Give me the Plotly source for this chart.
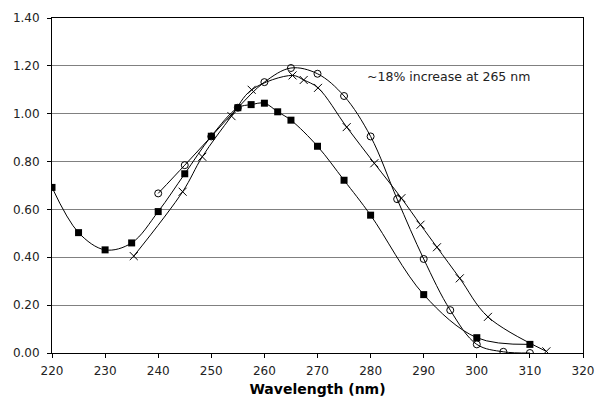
import plotly.graph_objects as go

# Series A (filled squares)
sq_x = [220, 225, 230, 235, 240, 245, 250, 255, 257.5, 260, 262.5, 265, 270, 275, 280, 290, 300, 310]
sq_y = [0.692, 0.503, 0.431, 0.460, 0.591, 0.749, 0.906, 1.025, 1.038, 1.044, 1.008, 0.973, 0.864, 0.722, 0.576, 0.244, 0.064, 0.036]

# Series B (open circles)
ci_x = [240, 245, 250, 255, 260, 265, 270, 275, 280, 285, 290, 295, 300, 305, 310]
ci_y = [0.667, 0.785, 0.905, 1.025, 1.132, 1.191, 1.167, 1.074, 0.905, 0.643, 0.393, 0.179, 0.036, 0.005, 0.0]

# Series C (x markers)
xm_x = [235.4, 244.6, 248.3, 253.8, 257.6, 265.3, 267.4, 270.1, 275.5, 280.7, 285.8, 289.4, 292.5, 296.8, 302.1, 313.1]
xm_y = [0.405, 0.674, 0.820, 0.990, 1.100, 1.160, 1.141, 1.108, 0.944, 0.793, 0.647, 0.536, 0.442, 0.312, 0.151, 0.007]

x_ticks = [220, 230, 240, 250, 260, 270, 280, 290, 300, 310, 320]
y_ticks = [0, 0.2, 0.4, 0.6, 0.8, 1.0, 1.2, 1.4]
y_labels = [f"{v:.2f}" for v in y_ticks]

annotation_text = "~18% increase at 265 nm"
x_title = "Wavelength (nm)"

fig = go.Figure()
line = dict(color="black", width=1, shape="spline", smoothing=1)

fig.add_trace(go.Scatter(x=ci_x, y=ci_y, mode="lines+markers", line=line,
                         marker=dict(symbol="circle-open", size=7, color="black", line=dict(width=1)),
                         showlegend=False))
fig.add_trace(go.Scatter(x=xm_x, y=xm_y, mode="lines+markers", line=line,
                         marker=dict(symbol="x-thin", size=8, color="black", line=dict(width=1, color="black")),
                         showlegend=False))
fig.add_trace(go.Scatter(x=sq_x, y=sq_y, mode="lines+markers", line=line,
                         marker=dict(symbol="square", size=7, color="black"),
                         showlegend=False))

fig.add_annotation(x=279, y=1.155, text=annotation_text, showarrow=False,
                   xanchor="left", yanchor="middle",
                   font=dict(family="DejaVu Sans", size=12.5, color="#222"))

fig.update_layout(
    width=605, height=405,
    margin=dict(l=52, r=19, t=11, b=52),
    paper_bgcolor="white", plot_bgcolor="white",
    font=dict(family="DejaVu Sans", size=12, color="#222"),
    xaxis=dict(range=[220, 320], tickvals=x_ticks, ticks="outside", ticklen=4,
               tickcolor="black", showline=True, linecolor="black", linewidth=1,
               mirror=True, showgrid=False, zeroline=False, ticklabelstandoff=3,
               title=dict(text=f"<b>{x_title}</b>", font=dict(size=14, color="black"), standoff=6)),
    yaxis=dict(range=[0, 1.4], tickvals=y_ticks, ticktext=y_labels, ticks="outside",
               ticklen=4, tickcolor="black", showline=True, linecolor="black", linewidth=1,
               mirror=True, showgrid=True, gridcolor="#808080", gridwidth=1, zeroline=False,
               ticklabelstandoff=5),
)

fig.write_html("out.html")
